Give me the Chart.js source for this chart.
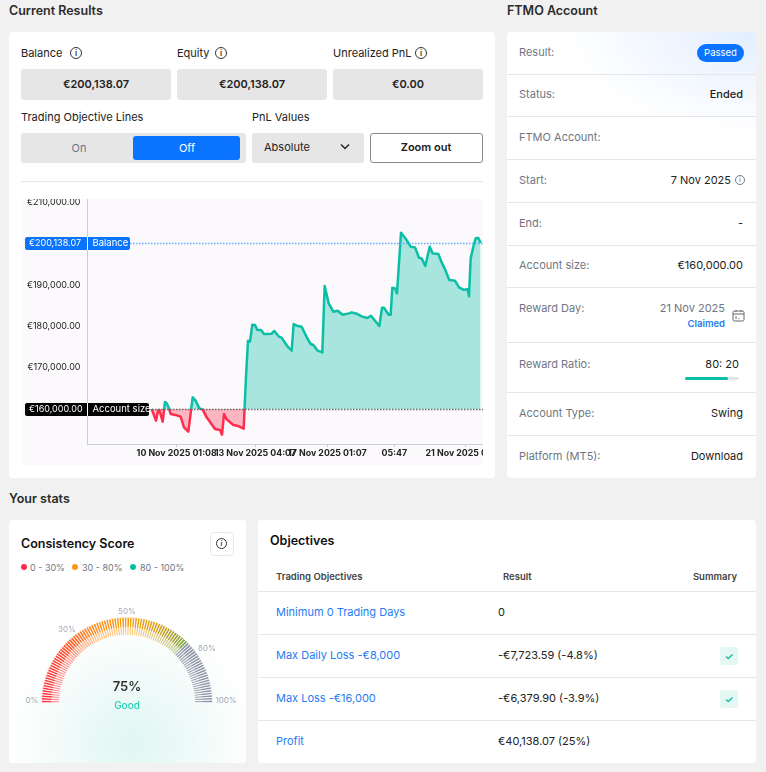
<!DOCTYPE html>
<html>
<head>
<meta charset="utf-8">
<script src="https://cdn.jsdelivr.net/npm/chart.js@4"></script>
<style>
  html, body { margin: 0; padding: 0; }
  body { width: 766px; height: 772px; background: #f1f1f1; position: relative; overflow: hidden;
         font-family: Inter, sans-serif; font-size: 11px; color: #222; }
  .card { position: absolute; background: #fff; border-radius: 4px; }
  .t { position: absolute; transform: translateY(-50%); white-space: nowrap; line-height: 1; }
  .r { transform: translate(-100%, -50%); }
  .c { transform: translate(-50%, -50%); }
  .h { font-size: 12.5px; font-weight: 600; color: #2b2b2b; }
  .h2 { font-size: 12.5px; font-weight: 600; color: #111; }
  .lb { color: #6f7683; }
  .box { position: absolute; background: #e6e6e6; border-radius: 3px; }
  .sep { position: absolute; height: 1px; background: #e6e6e6; }
  .b { font-weight: 600; }
  .m { font-weight: 500; }
  .link { color: #1f7cf2; }
  .ic { position: absolute; width: 10px; height: 10px; border: 1px solid #333; border-radius: 50%;
        font-size: 8px; line-height: 10px; text-align: center; color: #333; font-weight: 600; }
  .dot { position: absolute; width: 6px; height: 6px; border-radius: 50%; }
  .ck { position: absolute; left: 720px; width: 18px; height: 18px; background: #e4f7f3; border-radius: 3px;
        color: #0abfa6; font-size: 10px; line-height: 18px; text-align: center; font-weight: 700; }
  canvas { position: absolute; display: block; }
  .pct { position: absolute; transform: translate(-50%, -50%); font-size: 8px; color: #a3a9b8; white-space: nowrap; }
</style>
</head>
<body>

<div class="t h" style="left:9px;top:11px">Current Results</div>
<div class="t h" style="left:507px;top:11px">FTMO Account</div>

<div class="card" style="left:9px;top:32px;width:486px;height:446px"></div>
<div class="card" style="left:507px;top:32px;width:249px;height:446px;background:radial-gradient(ellipse 190px 100px at 100% 0,#e2eeff 0,#fff 100%)"></div>

<div class="t" style="left:21px;top:53px">Balance</div><div class="ic" style="left:70px;top:47px">i</div>
<div class="t" style="left:177px;top:53px">Equity</div><div class="ic" style="left:215px;top:47px">i</div>
<div class="t" style="left:333px;top:53px">Unrealized PnL</div><div class="ic" style="left:415px;top:47px">i</div>

<div class="box" style="left:21px;top:69px;width:150px;height:31px"></div>
<div class="box" style="left:177px;top:69px;width:150px;height:31px"></div>
<div class="box" style="left:333px;top:69px;width:150px;height:31px"></div>
<div class="t c b" style="left:96px;top:84px">€200,138.07</div>
<div class="t c b" style="left:252px;top:84px">€200,138.07</div>
<div class="t c b" style="left:408px;top:84px">€0.00</div>

<div class="t" style="left:21px;top:117px">Trading Objective Lines</div>
<div class="t" style="left:252px;top:117px">PnL Values</div>

<div class="box" style="left:21px;top:133px;width:225px;height:30px"></div>
<div class="t c" style="left:79px;top:148px;color:#6f7683">On</div>
<div class="box" style="left:133px;top:136px;width:107px;height:24px;background:#0a74ff"></div>
<div class="t c" style="left:187px;top:148px;color:#fff">Off</div>

<div class="box" style="left:252px;top:133px;width:112px;height:30px"></div>
<div class="t" style="left:264px;top:147px">Absolute</div>
<svg style="position:absolute;left:339px;top:143px" width="12" height="8"><path d="M2 1.5 L6 5.5 L10 1.5" fill="none" stroke="#222" stroke-width="1.4"/></svg>

<div style="position:absolute;left:370px;top:133px;width:111px;height:28px;border:1px solid #8a8a8a;border-radius:3px;background:#fff"></div>
<div class="t c b" style="left:426px;top:147px">Zoom out</div>

<div class="sep" style="left:21px;top:181px;width:462px"></div>

<canvas id="balanceChart" width="461" height="266" style="left:22px;top:199px;background:#fbf9fb"></canvas>

<!-- FTMO account rows -->
<div class="sep" style="left:507px;top:74px;width:249px"></div>
<div class="sep" style="left:507px;top:116px;width:249px"></div>
<div class="sep" style="left:507px;top:159px;width:249px"></div>
<div class="sep" style="left:507px;top:202px;width:249px"></div>
<div class="sep" style="left:507px;top:245px;width:249px"></div>
<div class="sep" style="left:507px;top:287px;width:249px"></div>
<div class="sep" style="left:507px;top:342px;width:249px"></div>
<div class="sep" style="left:507px;top:392px;width:249px"></div>
<div class="sep" style="left:507px;top:435px;width:249px"></div>

<div class="t lb" style="left:519px;top:52px">Result:</div>
<div style="position:absolute;left:697px;top:44px;width:47px;height:18px;border-radius:9px;background:#0a74ff"></div>
<div class="t c" style="left:720.5px;top:53px;color:#fff;font-size:9.5px">Passed</div>
<div class="t lb" style="left:519px;top:94px">Status:</div><div class="t r m" style="left:743px;top:94px">Ended</div>
<div class="t lb" style="left:519px;top:137px">FTMO Account:</div>
<div class="t lb" style="left:519px;top:180px">Start:</div><div class="t r" style="left:731px;top:180px">7 Nov 2025</div>
<div class="ic" style="left:735px;top:175px;width:8px;height:8px;font-size:6px;line-height:8px;border-color:#777;color:#777">i</div>
<div class="t lb" style="left:519px;top:223px">End:</div><div class="t r" style="left:743px;top:223px">-</div>
<div class="t lb" style="left:519px;top:265px">Account size:</div><div class="t r" style="left:743px;top:265px">€160,000.00</div>
<div class="t lb" style="left:519px;top:308px">Reward Day:</div><div class="t r lb" style="left:725px;top:308px">21 Nov 2025</div>
<div class="t r b link" style="left:725px;top:324px;font-size:9.5px">Claimed</div>
<svg style="position:absolute;left:732px;top:309px" width="13" height="13"><rect x="1" y="2" width="11" height="10" rx="1.5" fill="none" stroke="#666"/><path d="M1 5 H12 M4 1 V3 M9 1 V3 M4 7 V10 M7 9 V10" stroke="#666"/></svg>
<div class="t lb" style="left:519px;top:364px">Reward Ratio:</div><div class="t r" style="left:739px;top:364px">80: 20</div>
<div style="position:absolute;left:685px;top:377px;width:54px;height:3px;background:#e6e6e6;border-radius:2px"></div>
<div style="position:absolute;left:685px;top:377px;width:43px;height:3px;background:#0abfa6;border-radius:2px"></div>
<div class="t lb" style="left:519px;top:413px">Account Type:</div><div class="t r" style="left:743px;top:413px">Swing</div>
<div class="t lb" style="left:519px;top:456px">Platform (MT5):</div><div class="t r" style="left:743px;top:456px">Download</div>

<div class="t h" style="left:9px;top:499px">Your stats</div>

<!-- Consistency score -->
<div class="card" style="left:9px;top:520px;width:237px;height:243px;background:radial-gradient(ellipse 125px 125px at 52% 92%,#e0f6f2 0,#fff 100%)"></div>
<div class="t h2" style="left:21px;top:544px">Consistency Score</div>
<div style="position:absolute;left:210px;top:532px;width:22px;height:22px;border:1px solid #e8e8e8;border-radius:4px;background:#fff"></div>
<div class="ic" style="left:216px;top:538px;width:9px;height:9px;line-height:9px;font-size:7px">i</div>
<div class="dot" style="left:21px;top:564px;background:#ff2d4d"></div><div class="t lb" style="left:30px;top:567px;font-size:9px">0 - 30%</div>
<div class="dot" style="left:72px;top:564px;background:#ff9416"></div><div class="t lb" style="left:82px;top:567px;font-size:9px">30 - 80%</div>
<div class="dot" style="left:130px;top:564px;background:#0abfa6"></div><div class="t lb" style="left:140px;top:567px;font-size:9px">80 - 100%</div>
<canvas id="gaugeChart" width="172" height="88" style="left:41px;top:616px"></canvas>
<div class="pct" style="left:32px;top:700px">0%</div>
<div class="pct" style="left:67px;top:629px">30%</div>
<div class="pct" style="left:127px;top:611px">50%</div>
<div class="pct" style="left:207px;top:648px">80%</div>
<div class="pct" style="left:226px;top:700px">100%</div>
<div class="t c b" style="left:127px;top:686px;font-size:13px;color:#333">75%</div>
<div class="t c m" style="left:127px;top:705px;font-size:10px;color:#1fcfb4">Good</div>

<!-- Objectives -->
<div class="card" style="left:258px;top:520px;width:498px;height:243px"></div>
<div class="t h2" style="left:270px;top:541px">Objectives</div>
<div class="t b" style="left:276px;top:577px;font-size:9.5px;color:#444">Trading Objectives</div>
<div class="t b" style="left:503px;top:577px;font-size:9.5px;color:#444">Result</div>
<div class="t r b" style="left:737px;top:577px;font-size:9.5px;color:#444">Summary</div>
<div class="sep" style="left:258px;top:591px;width:498px"></div>
<div class="sep" style="left:258px;top:634px;width:498px"></div>
<div class="sep" style="left:258px;top:677px;width:498px"></div>
<div class="sep" style="left:258px;top:720px;width:498px"></div>
<div class="t link" style="left:276px;top:612px">Minimum 0 Trading Days</div><div class="t" style="left:498px;top:612px">0</div>
<div class="t link" style="left:276px;top:655px">Max Daily Loss -€8,000</div><div class="t" style="left:498px;top:655px">-€7,723.59 (-4.8%)</div>
<div class="ck" style="top:647px">✓</div>
<div class="t link" style="left:276px;top:698px">Max Loss -€16,000</div><div class="t" style="left:498px;top:698px">-€6,379.90 (-3.9%)</div>
<div class="ck" style="top:690px">✓</div>
<div class="t link" style="left:276px;top:741px">Profit</div><div class="t" style="left:498px;top:741px">€40,138.07 (25%)</div>

<script>
// نقاط الرصيد كما قرئت من الصورة
const balanceSteps = [195, 208, 214, 218, 228, 235, 240, 247, 252, 270, 282, 292, 305, 318, 327, 338, 348, 360, 385, 400, 406, 412, 420, 440, 455, 471, 478, 484, 490, 497, 505, 512, 523, 532, 555, 563, 577, 585, 603, 615, 621, 630, 645, 662, 672, 680, 693, 707, 714, 726, 740, 753, 768, 787, 795, 810, 825, 842, 853, 865, 878, 886, 892, 906, 912, 917, 926, 931, 943, 960, 972, 985, 997, 1005, 1016, 1029, 1038, 1055, 1065, 1074, 1088, 1105, 1117, 1130, 1143, 1147, 1152, 1160, 1167, 1175, 1182];
const balanceValues = [160000, 157180, 159600, 159760, 156940, 161690, 161370, 160160, 158790, 158470, 158150, 155570, 154530, 162820, 162010, 160160, 159920, 157990, 155170, 154930, 153800, 158790, 157500, 156140, 155890, 155250, 167810, 176500, 176260, 180370, 180290, 179080, 179080, 178110, 178190, 178840, 177470, 177230, 175050, 174090, 180530, 180120, 179880, 177070, 175700, 175460, 174090, 173680, 189700, 185520, 183510, 183750, 182780, 183100, 183340, 183020, 182380, 181980, 182540, 181330, 180040, 184470, 184470, 182780, 182780, 189300, 189060, 187930, 202580, 200810, 199200, 199040, 196550, 196390, 194530, 199200, 197590, 197430, 195420, 193970, 191150, 190990, 189380, 188820, 188900, 187210, 196390, 199200, 201220, 201300, 200138.07];
const xTickSteps = [270, 506, 722, 923, 1136];
const xTickLabels = ['10 Nov 2025 01:08', '13 Nov 2025 04:07', '17 Nov 2025 01:07', '05:47', '21 Nov 2025 04:12'];
const yTickValues = [170000, 180000, 190000, 210000];
const accountSize = 160000;
const balanceNow = 200138.07;

// مقياس الثبات
const gaugeScore = 75;
const gaugeTicks = [1, 1, 1, 1, 1, 1, 1, 1, 1, 1, 1, 1, 1, 1, 1, 1, 1, 1, 1, 1, 1, 1, 1, 1, 1, 1, 1, 1, 1, 1, 1, 1, 1, 1, 1, 1, 1, 1, 1, 1, 1, 1, 1, 1, 1, 1, 1, 1, 1, 1, 1, 1, 1, 1, 1, 1, 1, 1, 1, 1, 1, 1, 1, 1, 1, 1, 1, 1, 1, 1, 1, 1, 1, 1, 1, 1, 1, 1, 1, 1, 1, 1, 1, 1, 1, 1, 1, 1, 1, 1, 1, 1, 1, 1, 1, 1, 1, 1, 1, 1];

const TEAL = '#0abfa6';
const RED = '#ff2d4d';
const euro = v => '€' + v.toLocaleString('en-US', { minimumFractionDigits: 2, maximumFractionDigits: 2 });

function lineGradient(context) {
    const { chartArea, scales, ctx } = context.chart;
    if (!chartArea) return TEAL;
    const y = scales.y.getPixelForValue(accountSize);
    const stop = (y - chartArea.top) / (chartArea.bottom - chartArea.top);
    const g = ctx.createLinearGradient(0, chartArea.top, 0, chartArea.bottom);
    g.addColorStop(0, TEAL);
    g.addColorStop(stop, TEAL);
    g.addColorStop(stop, RED);
    g.addColorStop(1, RED);
    return g;
}

// الخطوط المرجعية مع تسمياتها
const referenceLines = {
    id: 'referenceLines',
    afterDatasetsDraw(chart) {
        const { ctx, scales: { x, y }, chartArea } = chart;
        const lines = [
            { value: balanceNow, tag: euro(balanceNow), name: 'Balance', box: '#0a74ff', dash: '#64aaff', boxEnd: 108 },
            { value: accountSize, tag: euro(accountSize), name: 'Account size', box: '#000', dash: '#666', boxEnd: 127 }
        ];
        ctx.save();
        lines.forEach(line => {
            const py = Math.round(y.getPixelForValue(line.value)) + 0.5;
            ctx.strokeStyle = line.dash;
            ctx.lineWidth = 1.3;
            ctx.setLineDash([1.5, 1.5]);
            ctx.beginPath();
            ctx.moveTo(line.boxEnd, py);
            ctx.lineTo(chartArea.right, py);
            ctx.stroke();
            ctx.setLineDash([]);
            ctx.fillStyle = line.box;
            ctx.beginPath();
            ctx.roundRect(3, py - 6.5, line.boxEnd - 3, 13, 2);
            ctx.fill();
            ctx.fillStyle = '#fff';
            ctx.fillRect(x.left - 0.5, py - 6.5, 1, 13);
            ctx.textBaseline = 'middle';
            ctx.textAlign = 'left';
            ctx.font = '9px Inter';
            ctx.fillText(line.tag, 7, py);
            ctx.font = '9.5px Inter';
            ctx.fillText(line.name, x.left + 5, py);
        });
        ctx.restore();
    }
};

new Chart(document.getElementById('balanceChart'), {
    type: 'line',
    data: {
        datasets: [{
            data: balanceSteps.map((step, i) => ({ x: step, y: balanceValues[i] })),
            borderColor: lineGradient,
            borderWidth: 2.5,
            borderJoinStyle: 'round',
            pointRadius: 0,
            tension: 0,
            fill: { value: accountSize, above: 'rgba(10,191,166,0.34)', below: 'rgba(255,45,77,0.33)' }
        }]
    },
    options: {
        responsive: false,
        animation: false,
        plugins: { legend: { display: false }, tooltip: { enabled: false } },
        layout: { padding: 0 },
        scales: {
            x: {
                type: 'linear',
                min: 2.5,
                max: 1189,
                afterBuildTicks: axis => { axis.ticks = xTickSteps.map(value => ({ value })); },
                afterFit: axis => { axis.height = 21; axis.paddingLeft = 0; axis.paddingRight = 0; },
                ticks: {
                    autoSkip: false,
                    maxRotation: 0,
                    minRotation: 0,
                    padding: 1,
                    color: '#222',
                    font: { family: 'Inter', size: 8.8, weight: '700' },
                    callback: value => xTickLabels[xTickSteps.indexOf(value)]
                },
                grid: { drawOnChartArea: false, tickLength: 3, color: '#c9ced3' },
                border: { color: '#c9ced3' }
            },
            y: {
                min: 151546,
                max: 210725,
                afterBuildTicks: axis => { axis.ticks = yTickValues.map(value => ({ value })); },
                afterFit: axis => { axis.width = 65.5; axis.paddingTop = 0; axis.paddingBottom = 0; },
                ticks: {
                    padding: 7,
                    color: '#222',
                    font: { family: 'Inter', size: 9 },
                    callback: value => euro(value)
                },
                grid: { display: false, drawTicks: false },
                border: { color: '#c9ced3' }
            }
        }
    },
    plugins: [referenceLines]
});

// ألوان شرائح المقياس
const gaugeStops = [[0, [255, 48, 64]], [20, [255, 80, 60]], [35, [255, 140, 40]], [50, [245, 160, 16]], [62, [216, 160, 32]], [75, [130, 170, 80]]];
function gaugeColor(i, alpha) {
    if (i >= gaugeScore) return 'rgba(143,151,168,' + (alpha < 1 ? 0.8 : 1) + ')';
    let k = 0;
    while (k < gaugeStops.length - 2 && i >= gaugeStops[k + 1][0]) k++;
    const [a, ca] = gaugeStops[k];
    const [b, cb] = gaugeStops[k + 1];
    const f = (i - a) / (b - a);
    const c = ca.map((v, n) => Math.round(v + (cb[n] - v) * f));
    return 'rgba(' + c.join(',') + ',' + alpha + ')';
}

// كل شريحة غامقة من الخارج وفاتحة من الداخل
function gaugeSliceFill(context) {
    const { chart, dataIndex } = context;
    const controller = chart.getDatasetMeta(0).controller;
    const { chartArea, ctx } = chart;
    if (!chartArea || !controller.outerRadius) return gaugeColor(dataIndex, 1);
    const cx = (chartArea.left + chartArea.right) / 2 + controller.offsetX;
    const cy = (chartArea.top + chartArea.bottom) / 2 + controller.offsetY;
    const g = ctx.createRadialGradient(cx, cy, controller.innerRadius, cx, cy, controller.outerRadius);
    g.addColorStop(0, gaugeColor(dataIndex, 0.55));
    g.addColorStop(0.45, gaugeColor(dataIndex, 0.55));
    g.addColorStop(0.45, gaugeColor(dataIndex, 1));
    g.addColorStop(1, gaugeColor(dataIndex, 1));
    return g;
}

new Chart(document.getElementById('gaugeChart'), {
    type: 'doughnut',
    data: {
        datasets: [
            { data: gaugeTicks, backgroundColor: gaugeSliceFill, borderColor: '#fff', borderWidth: 0.9 }
        ]
    },
    options: {
        responsive: false,
        animation: false,
        rotation: -90,
        circumference: 180,
        cutout: '79%',
        plugins: { legend: { display: false }, tooltip: { enabled: false } }
    }
});
</script>
</body>
</html>
